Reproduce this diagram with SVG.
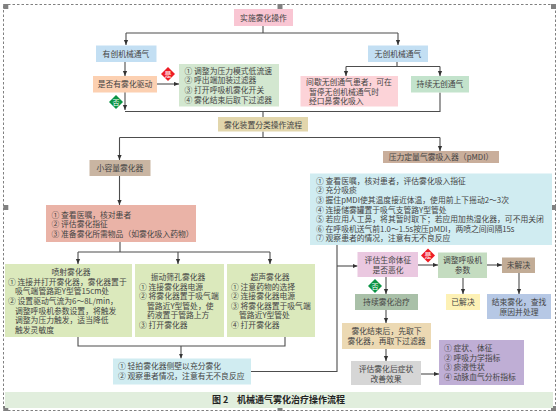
<svg xmlns="http://www.w3.org/2000/svg" width="559" height="415" viewBox="0 0 559 415">
<style>
text{font-family:"Noto Sans CJK SC","Liberation Serif",serif;font-size:7.800px;fill:#444}
.c{text-anchor:middle}
.l{fill:none;stroke:#4d4d4d;stroke-width:1.1}
.a{marker-end:url(#ah)}
.d{font-size:7px;fill:#fff;text-anchor:middle}
.h{fill:#808080}
.cap{font-weight:700;fill:#222;font-size:9px}
</style>
<defs><marker id="ah" markerUnits="userSpaceOnUse" markerWidth="6" markerHeight="6" refX="5" refY="2.5" orient="auto"><path d="M0 0.4L5 2.5L0 4.6Z" fill="#333"/></marker></defs>
<rect width="559" height="415" fill="#fff"/>
<rect x="3.5" y="4.5" width="552" height="406" fill="none" stroke="#808080" stroke-dasharray="2.5 2"/>
<g class="hs"><rect class="h" x="3.3" y="4" width="5" height="5"/><rect class="h" x="277.5" y="4" width="5" height="5"/><rect class="h" x="551" y="4" width="5" height="5"/><rect class="h" x="3.3" y="205" width="5" height="5"/><rect class="h" x="551" y="205" width="5" height="5"/><rect class="h" x="3.3" y="406" width="5" height="5"/><rect class="h" x="277.5" y="406" width="5" height="5"/><rect class="h" x="551" y="406" width="5" height="5"/></g>
<g id="connectors">
<path class="l" d="M263 26V33M126 33H398"/>
<path class="l a" d="M126 33V45"/><path class="l a" d="M398 33V45"/>
<path class="l a" d="M125 62V76"/>
<path class="l a" d="M157 84H179"/>
<path class="l a" d="M125 92V110"/>
<path class="l" d="M125 111.500H440V92.500M263 111.500V117M263 131.500V137.500M119.500 137.500H440"/>
<path class="l a" d="M119.500 137.500V160"/><path class="l a" d="M440 137.500V151"/>
<path class="l" d="M397 62V66.500M346 66.500H440"/>
<path class="l a" d="M346 66.500V76"/><path class="l a" d="M440 66.500V76"/>
<path class="l a" d="M119.500 176V205"/>
<path class="l" d="M120 242V252M78 252H270"/>
<path class="l a" d="M78 252V264"/><path class="l a" d="M178 252V264"/><path class="l a" d="M270 252V264"/>
<path class="l" d="M78 337V346H285V337"/>
<path class="l a" d="M181 346V358.500"/>
<path class="l" d="M251 371.500H337V245"/>
<path class="l a" d="M337 266H357.500"/>
<path class="l a" d="M418 265H438"/><path class="l a" d="M487 265H502"/>
<path class="l a" d="M519 273V294"/><path class="l a" d="M463 278V294"/>
<path class="l a" d="M386 277V294"/><path class="l a" d="M386 310V323"/><path class="l a" d="M386 349V361"/>
<path class="l a" d="M421 374H439"/>
</g>
<g id="n1"><rect x="234" y="9" width="59" height="17" fill="#f9c6d3"/><text class="c" x="263.500" y="20.500">实施雾化操作</text></g>
<g id="n2"><rect x="96" y="45.500" width="60.500" height="16.500" fill="#c3dff3"/><text class="c" x="126" y="56.800">有创机械通气</text></g>
<g id="n3"><rect x="368" y="45.500" width="60" height="16.500" fill="#c3dff3"/><text class="c" x="398" y="56.800">无创机械通气</text></g>
<g id="n4"><rect x="93" y="76" width="64" height="16.500" fill="#fcd0b1"/><text class="c" x="125" y="87.300">是否有雾化驱动</text></g>
<g id="n5"><rect x="179" y="64" width="100" height="42.500" fill="#d3e7d0"/><text x="184.500" y="73.700">① 调整为压力模式低流速</text><text x="184.500" y="83.300">② 呼出端加装过滤器</text><text x="184.500" y="92.900">③ 打开呼吸机雾化开关</text><text x="184.500" y="102.500">④ 雾化结束后取下过滤器</text></g>
<g id="n6"><rect x="300.500" y="76" width="97.500" height="30.500" fill="#fcd3d8"/><text class="c" x="349" y="84.700">间歇无创通气患者，可在</text><text x="309" y="94.700">暂停无创机械通气时</text><text x="309" y="104.400">经口鼻雾化吸入</text></g>
<g id="n7"><rect x="411" y="76" width="58" height="16.500" fill="#c3e3cc"/><text class="c" x="440" y="87.300">持续无创通气</text></g>
<g id="n8"><path d="M168 67L175 74L168 81L161 74Z" fill="#ee1c25"/><text class="d" x="168" y="76.500">是</text></g>
<g id="n9"><path d="M116 95L123 102L116 109L109 102Z" fill="#0b9444"/><text class="d" x="116" y="104.500">否</text></g>
<g id="n10"><rect x="218" y="117" width="90" height="14.500" fill="#e2d6ac"/><text class="c" x="263" y="127.500">雾化装置分类操作流程</text></g>
<g id="n11"><rect x="89.500" y="160" width="61" height="16" fill="#c9b5a2"/><text class="c" x="120" y="171">小容量雾化器</text></g>
<g id="n12"><rect x="383" y="151" width="116" height="12" fill="#c9ae9b"/><text class="c" x="441" y="160">压力定量气雾吸入器（pMDI）</text></g>
<g id="n13"><rect x="46" y="205" width="150" height="37" fill="#eab3a7"/><text x="51.500" y="217.700">① 查看医嘱，核对患者</text><text x="51.500" y="227.300">② 评估雾化指征</text><text x="51.500" y="236.900">③ 准备雾化所需物品（如雾化吸入药物）</text></g>
<g id="n14"><rect x="310" y="173.500" width="242" height="71.500" fill="#d0ecf1"/><text x="316" y="183.700">① 查看医嘱，核对患者，评估雾化吸入指征</text><text x="316" y="193.300">② 充分吸痰</text><text x="316" y="202.900">③ 握住pMDI使其温度接近体温，使用前上下摇动2～3次</text><text x="316" y="212.500">④ 连接储雾罐置于吸气支管路Y型管处</text><text x="316" y="222.100">⑤ 若应用人工鼻，将其暂时取下；若应用加热湿化器，可不用关闭</text><text x="316" y="231.700">⑥ 在呼吸机送气前1.0～1.5s按压pMDI，两喷之间间隔15s</text><text x="316" y="241.300">⑦ 观察患者的情况，注意有无不良反应</text></g>
<g id="n15"><rect x="5" y="264" width="127" height="73" fill="#dbe9bc"/><text class="c" x="71" y="274.500">喷射雾化器</text><text x="8" y="284.700">① 连接并打开雾化器，雾化器置于</text><text x="15" y="294.300">吸气端管路距Y型管15cm处</text><text x="8" y="303.900">② 设置驱动气流为6～8L/min，</text><text x="15" y="313.500">调整呼吸机参数设置，将触发</text><text x="15" y="323.100">调整为压力触发，适当降低</text><text x="15" y="332.700">触发灵敏度</text></g>
<g id="n16"><rect x="135" y="264" width="89" height="73" fill="#dbe9bc"/><text class="c" x="178" y="279.700">振动筛孔雾化器</text><text x="139" y="289.500">① 连接雾化器电源</text><text x="139" y="299.100">② 将雾化器置于吸气端</text><text x="147" y="308.700">管路近Y型管处，使</text><text x="147" y="318.300">药液置于管路上方</text><text x="139" y="327.900">③ 打开雾化器</text></g>
<g id="n17"><rect x="227" y="264" width="88" height="73" fill="#dbe9bc"/><text class="c" x="270" y="279.700">超声雾化器</text><text x="231" y="289.500">① 注意药物的选择</text><text x="231" y="299.100">② 连接雾化器电源</text><text x="231" y="308.700">③ 将雾化器置于吸气端</text><text x="239" y="318.300">管路近Y型管处</text><text x="231" y="327.900">④ 打开雾化器</text></g>
<g id="n18"><rect x="113" y="358.500" width="138" height="26" fill="#d0ecf1"/><text x="118" y="369.300">① 轻拍雾化器侧壁以充分雾化</text><text x="118" y="379">② 观察患者情况，注意有无不良反应</text></g>
<g id="n19"><rect x="357.500" y="252" width="60.500" height="25" fill="#eac8e0"/><text class="c" x="388" y="262.500">评估生命体征</text><text class="c" x="388" y="272.500">是否恶化</text></g>
<g id="n20"><rect x="438" y="252.500" width="49" height="25.500" fill="#c4dcc0"/><text class="c" x="462.500" y="262.500">调整呼吸机</text><text class="c" x="462.500" y="272.500">参数</text></g>
<g id="n21"><rect x="502" y="257.500" width="33" height="15.500" fill="#c2ac96"/><text class="c" x="518.500" y="268.300">未解决</text></g>
<g id="n22"><path d="M428 248.500L435 255.500L428 262.500L421 255.500Z" fill="#ee1c25"/><text class="d" x="428" y="258">是</text></g>
<g id="n23"><path d="M375 279L382 286L375 293L368 286Z" fill="#0b9444"/><text class="d" x="375" y="288.500">否</text></g>
<g id="n24"><rect x="355" y="294" width="63" height="16" fill="#a9c0a8"/><text class="c" x="386.500" y="305">持续雾化治疗</text></g>
<g id="n25"><rect x="446" y="294" width="34" height="16" fill="#fdf1b5"/><text class="c" x="463" y="305">已解决</text></g>
<g id="n26"><rect x="487" y="294" width="64" height="25" fill="#b6c8e5"/><text class="c" x="519" y="304.500">结束雾化，查找</text><text class="c" x="519" y="314.500">原因并处理</text></g>
<g id="n27"><rect x="342" y="323" width="89" height="26" fill="#ecd9b3"/><text class="c" x="386.500" y="333.500">雾化结束后，先取下</text><text class="c" x="386.500" y="343.500">雾化器，再取下过滤器</text></g>
<g id="n28"><rect x="351" y="361" width="70" height="24" fill="#d6d6d6"/><text class="c" x="386" y="372">评估雾化后症状</text><text class="c" x="386" y="381.700">改善效果</text></g>
<g id="n29"><rect x="439" y="340" width="85" height="45" fill="#bfaed5"/><text x="444" y="351">① 症状、体征</text><text x="444" y="360.600">② 呼吸力学指标</text><text x="444" y="370.200">③ 痰液性状</text><text x="444" y="379.800">④ 动脉血气分析指标</text></g>
<g id="caption"><rect x="5" y="392" width="548" height="16" fill="#e1eedd"/><text class="cap" x="212" y="403">图 2</text><text class="cap" x="237" y="403">机械通气雾化治疗操作流程</text></g>
</svg>
